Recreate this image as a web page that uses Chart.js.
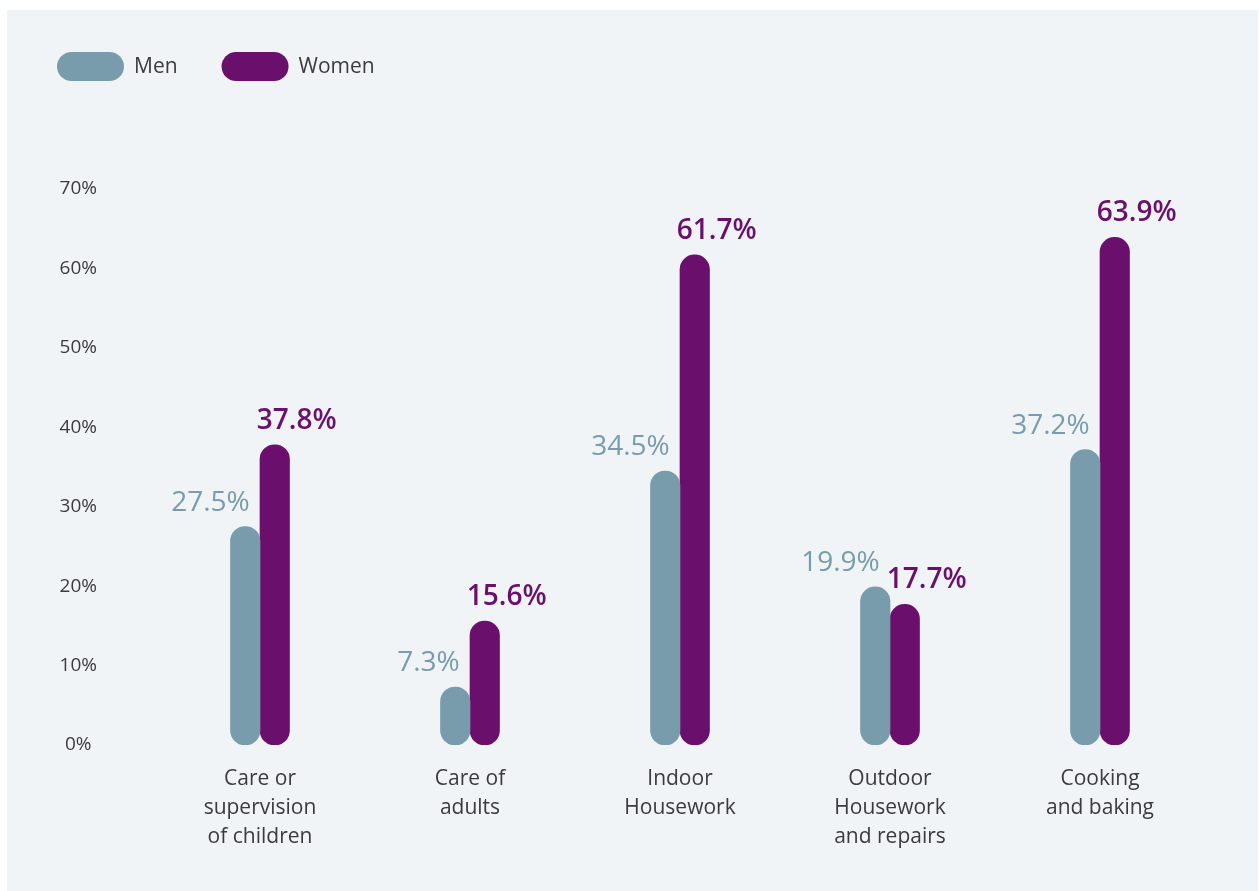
<!DOCTYPE html>
<html>
<head>
<meta charset="utf-8">
<title>Unpaid work by activity</title>
<script src="https://cdn.jsdelivr.net/npm/chart.js@4/dist/chart.umd.min.js"></script>
<style>
  html, body { margin: 0; padding: 0; background: #ffffff; }
  #panel {
    position: absolute;
    left: 7px;
    top: 10px;
    width: 1251px;
    height: 881px;
    background: #f0f4f7;
  }
</style>
</head>
<body>
<div id="panel"><canvas id="activityChart"></canvas></div>
<script>
const categories = [
  ['Care or', 'supervision', 'of children'],
  ['Care of', 'adults'],
  ['Indoor', 'Housework'],
  ['Outdoor', 'Housework', 'and repairs'],
  ['Cooking', 'and baking']
];
const men = [27.5, 7.3, 34.5, 19.9, 37.2];
const women = [37.8, 15.6, 61.7, 17.7, 63.9];
const yTicks = [0, 10, 20, 30, 40, 50, 60, 70];

const MEN_COLOR = '#799cac';
const WOMEN_COLOR = '#6a0f6b';
const TEXT_COLOR = '#3b3b3d';
const FONT = '"Open Sans", "Noto Sans", sans-serif';

// pill shaped legend in the top left corner
const pillLegend = {
  id: 'pillLegend',
  afterDraw(chart) {
    const ctx = chart.ctx;
    let x = 50;
    const y = 42, w = 67, h = 29;
    ctx.save();
    ctx.font = '500 21px ' + FONT;
    ctx.textBaseline = 'middle';
    ctx.textAlign = 'left';
    chart.data.datasets.forEach(ds => {
      ctx.fillStyle = ds.backgroundColor;
      ctx.beginPath();
      ctx.roundRect(x, y, w, h, h / 2);
      ctx.fill();
      ctx.fillStyle = TEXT_COLOR;
      const tx = x + w + 10;
      ctx.fillText(ds.label, tx, y + h / 2 + 1);
      x = tx + ctx.measureText(ds.label).width + 44;
    });
    ctx.restore();
  }
};

// percentage labels above each bar
const valueLabels = {
  id: 'valueLabels',
  afterDatasetsDraw(chart) {
    const ctx = chart.ctx;
    ctx.save();
    ctx.textBaseline = 'alphabetic';
    chart.data.datasets.forEach((ds, i) => {
      const meta = chart.getDatasetMeta(i);
      meta.data.forEach((bar, j) => {
        const text = ds.data[j].toFixed(1) + '%';
        ctx.fillStyle = ds.backgroundColor;
        if (i === 0) {
          ctx.font = '500 28px ' + FONT;
          ctx.textAlign = 'right';
          ctx.fillText(text, bar.x + 4.5, bar.y - 16);
        } else {
          ctx.font = '600 28px ' + FONT;
          ctx.textAlign = 'left';
          ctx.fillText(text, bar.x - 18, bar.y - 16);
        }
      });
    });
    ctx.restore();
  }
};

new Chart(document.getElementById('activityChart').getContext('2d'), {
  type: 'bar',
  data: {
    labels: categories,
    datasets: [
      {
        label: 'Men',
        data: men,
        backgroundColor: MEN_COLOR,
        borderRadius: 15,
        borderSkipped: false,
        barThickness: 29.5
      },
      {
        label: 'Women',
        data: women,
        backgroundColor: WOMEN_COLOR,
        borderRadius: 15,
        borderSkipped: false,
        barThickness: 29.5
      }
    ]
  },
  options: {
    responsive: true,
    maintainAspectRatio: false,
    animation: false,
    layout: {
      padding: { left: 0, right: 53, top: 179, bottom: 0 }
    },
    plugins: {
      legend: { display: false },
      tooltip: { enabled: false }
    },
    scales: {
      x: {
        grid: { display: false, drawTicks: false },
        border: { display: false },
        ticks: {
          color: TEXT_COLOR,
          padding: 19,
          maxRotation: 0,
          autoSkip: false,
          font: { family: FONT, size: 21, weight: 500, lineHeight: 1.4 }
        },
        afterFit(scale) { scale.height = 146; }
      },
      y: {
        min: 0,
        max: 70,
        grid: { display: false, drawTicks: false },
        border: { display: false },
        afterBuildTicks(scale) {
          scale.ticks = yTicks.map(v => ({ value: v }));
        },
        ticks: {
          color: TEXT_COLOR,
          crossAlign: 'center',
          padding: 58,
          font: { family: FONT, size: 19, weight: 500 },
          callback: v => v + '%'
        },
        afterFit(scale) { scale.width = 148; }
      }
    }
  },
  plugins: [pillLegend, valueLabels]
});
</script>
</body>
</html>
